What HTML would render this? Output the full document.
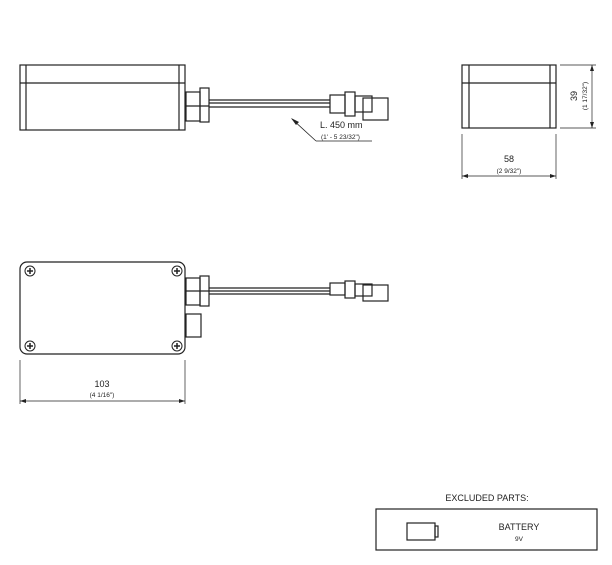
<!DOCTYPE html>
<html><head><style>body{margin:0;background:#fff}svg{display:block}text{font-family:"Liberation Sans",sans-serif;fill:#222}</style></head><body>
<svg width="612" height="565" viewBox="0 0 612 565" xmlns="http://www.w3.org/2000/svg">
<g fill="none" stroke="#222" stroke-width="1.2">
<rect x="20" y="65" width="165" height="65"/>
<line x1="26" y1="65" x2="26" y2="130"/><line x1="179" y1="65" x2="179" y2="130"/>
<line x1="20" y1="83" x2="185" y2="83"/>
<rect x="186" y="92" width="14" height="29"/>
<rect x="200" y="88" width="9" height="34"/>
<line x1="186" y1="106" x2="209" y2="106"/>
<line x1="209" y1="100" x2="330" y2="100"/><line x1="209" y1="103" x2="330" y2="103"/><line x1="209" y1="107" x2="330" y2="107"/>
<rect x="330" y="95" width="15" height="18"/>
<rect x="345" y="92" width="10" height="24"/>
<rect x="355" y="96" width="17" height="16"/>
<rect x="363" y="98" width="25" height="22"/>
<line x1="316" y1="141" x2="372" y2="141" stroke-width="0.8"/>
<line x1="316" y1="141" x2="292" y2="119" stroke-width="0.8"/>
<rect x="462" y="65" width="94" height="63"/>
<line x1="469" y1="65" x2="469" y2="128"/><line x1="550" y1="65" x2="550" y2="128"/>
<line x1="462" y1="83" x2="556" y2="83"/>
<g stroke-width="0.7">
<line x1="560" y1="65" x2="596" y2="65"/><line x1="560" y1="128" x2="596" y2="128"/>
<line x1="592" y1="65" x2="592" y2="128"/>
<line x1="462" y1="134" x2="462" y2="179"/><line x1="556" y1="134" x2="556" y2="179"/>
<line x1="462" y1="176" x2="556" y2="176"/>
<line x1="20" y1="360" x2="20" y2="404"/><line x1="185" y1="360" x2="185" y2="404"/>
<line x1="20" y1="401" x2="185" y2="401"/>
</g>
<rect x="20" y="262" width="165" height="92" rx="7"/>
<g stroke-width="1">
<circle cx="30" cy="271" r="5"/><circle cx="177" cy="271" r="5"/><circle cx="30" cy="346" r="5"/><circle cx="177" cy="346" r="5"/>
</g>
<g stroke-width="1.5">
<path d="M27 271h6M30 268v6M174 271h6M177 268v6M27 346h6M30 343v6M174 346h6M177 343v6"/>
</g>
<rect x="186" y="278" width="14" height="27"/>
<rect x="200" y="276" width="9" height="30"/>
<line x1="186" y1="291" x2="209" y2="291"/>
<line x1="209" y1="288" x2="330" y2="288"/><line x1="209" y1="291" x2="330" y2="291"/><line x1="209" y1="294" x2="330" y2="294"/>
<rect x="330" y="283" width="15" height="12"/>
<rect x="345" y="281" width="10" height="17"/>
<rect x="355" y="284" width="17" height="12"/>
<rect x="363" y="285" width="25" height="16"/>
<rect x="186" y="314" width="15" height="23"/>
<rect x="376" y="509" width="221" height="41"/>
<rect x="407" y="523" width="28" height="17"/>
<rect x="435" y="526" width="3" height="11"/>
</g>
<g fill="#222">
<path d="M291 118 L299 122 L296 125 Z"/>
<path d="M592 65 l-2 6 h4Z M592 128 l-2 -6 h4Z"/>
<path d="M462 176 l6 -2 v4Z M556 176 l-6 -2 v4Z"/>
<path d="M20 401 l6 -2 v4Z M185 401 l-6 -2 v4Z"/>
</g>
<text x="320" y="128" font-size="9">L. 450 mm</text>
<text x="321" y="139" font-size="6.5">(1' - 5 23/32")</text>
<text x="577" y="96" font-size="9" text-anchor="middle" transform="rotate(-90 577 96)">39</text>
<text x="587" y="96" font-size="6.5" text-anchor="middle" transform="rotate(-90 587 96)">(1 17/32")</text>
<text x="509" y="162" font-size="9" text-anchor="middle">58</text>
<text x="509" y="173" font-size="6.5" text-anchor="middle">(2 9/32")</text>
<text x="102" y="387" font-size="9" text-anchor="middle">103</text>
<text x="102" y="397" font-size="6.5" text-anchor="middle">(4 1/16")</text>
<text x="487" y="501" font-size="9" text-anchor="middle">EXCLUDED PARTS:</text>
<text x="519" y="530" font-size="9" text-anchor="middle">BATTERY</text>
<text x="519" y="541" font-size="6.5" text-anchor="middle">9V</text>
</svg>
</body></html>
